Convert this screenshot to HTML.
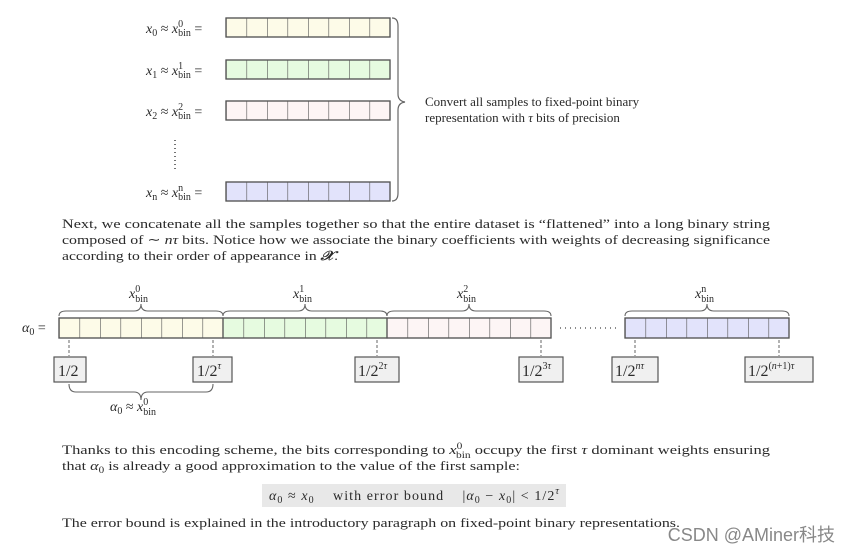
<!DOCTYPE html>
<html><head><meta charset="utf-8"><style>
html,body{margin:0;padding:0;background:#fff;}
svg{display:block;}
text{font-family:"Liberation Serif",serif;fill:#2a2a2a;}
.m{font-style:italic;}
</style></head><body>
<svg width="850" height="551" viewBox="0 0 850 551" xmlns="http://www.w3.org/2000/svg">
<defs>
<pattern id="pt" patternUnits="userSpaceOnUse" x="226" y="0" width="20.5" height="600"><line x1="0" y1="0" x2="0" y2="600" stroke="#555" stroke-width="1.2"/></pattern>
<pattern id="pb" patternUnits="userSpaceOnUse" x="59" y="0" width="20.5" height="600"><line x1="0" y1="0" x2="0" y2="600" stroke="#555" stroke-width="1.2"/></pattern>
<pattern id="pn" patternUnits="userSpaceOnUse" x="625" y="0" width="20.5" height="600"><line x1="0" y1="0" x2="0" y2="600" stroke="#555" stroke-width="1.2"/></pattern>
</defs>
<g font-size="13">
<g stroke="#555" stroke-width="1.2">
<rect x="226" y="18" width="164" height="19" fill="#fdfbe8"/><rect x="226" y="18" width="164" height="19" fill="url(#pt)"/>
<rect x="226" y="60" width="164" height="19" fill="#e6fbe0"/><rect x="226" y="60" width="164" height="19" fill="url(#pt)"/>
<rect x="226" y="101" width="164" height="19" fill="#fdf5f5"/><rect x="226" y="101" width="164" height="19" fill="url(#pt)"/>
<rect x="226" y="182" width="164" height="19" fill="#e2e3fb"/><rect x="226" y="182" width="164" height="19" fill="url(#pt)"/>
</g>
<g font-size="14">
<text x="146" y="33"><tspan class="m">x</tspan><tspan font-size="10" dy="3">0</tspan><tspan dy="-3">&#160;≈&#160;</tspan><tspan class="m">x</tspan><tspan font-size="10" dy="-6">0</tspan><tspan font-size="10" dx="-5" dy="9">bin</tspan><tspan dy="-3">&#160;=</tspan></text>
<text x="146" y="75"><tspan class="m">x</tspan><tspan font-size="10" dy="3">1</tspan><tspan dy="-3">&#160;≈&#160;</tspan><tspan class="m">x</tspan><tspan font-size="10" dy="-6">1</tspan><tspan font-size="10" dx="-5" dy="9">bin</tspan><tspan dy="-3">&#160;=</tspan></text>
<text x="146" y="116"><tspan class="m">x</tspan><tspan font-size="10" dy="3">2</tspan><tspan dy="-3">&#160;≈&#160;</tspan><tspan class="m">x</tspan><tspan font-size="10" dy="-6">2</tspan><tspan font-size="10" dx="-5" dy="9">bin</tspan><tspan dy="-3">&#160;=</tspan></text>
<text x="146" y="197"><tspan class="m">x</tspan><tspan font-size="10" dy="3">n</tspan><tspan dy="-3">&#160;≈&#160;</tspan><tspan class="m">x</tspan><tspan font-size="10" dy="-6">n</tspan><tspan font-size="10" dx="-5" dy="9">bin</tspan><tspan dy="-3">&#160;=</tspan></text>
</g>
<line x1="175" y1="140" x2="175" y2="172" stroke="#444" stroke-width="1.5" stroke-dasharray="1 3"/>
<path d="M392 18 Q398 18 398 26 L398 94 Q398 101 405 102 Q398 103 398 110 L398 193 Q398 201 392 201" fill="none" stroke="#666" stroke-width="1.2"/>
<text x="425" y="106">Convert all samples to fixed-point binary</text>
<text x="425" y="122">representation with <tspan class="m">τ</tspan> bits of precision</text>

<text x="62" y="228" textLength="708" lengthAdjust="spacingAndGlyphs">Next, we concatenate all the samples together so that the entire dataset is “flattened” into a long binary string</text>
<text x="62" y="244" textLength="708" lengthAdjust="spacingAndGlyphs">composed of ∼ <tspan class="m">nτ</tspan> bits. Notice how we associate the binary coefficients with weights of decreasing significance</text>
<text x="62" y="260" textLength="276" lengthAdjust="spacingAndGlyphs">according to their order of appearance in <tspan class="m" font-weight="bold">𝒳</tspan>.</text>

<text x="22" y="332" font-size="14"><tspan class="m">α</tspan><tspan font-size="10" dy="3">0</tspan><tspan dy="-3">&#160;=</tspan></text>
<g stroke="#555" stroke-width="1.2">
<rect x="59" y="318" width="164" height="20" fill="#fdfbe8"/>
<rect x="223" y="318" width="164" height="20" fill="#e6fbe0"/>
<rect x="387" y="318" width="164" height="20" fill="#fdf5f5"/>
<rect x="59" y="318" width="492" height="20" fill="url(#pb)"/>
<rect x="625" y="318" width="164" height="20" fill="#e2e3fb"/>
<rect x="625" y="318" width="164" height="20" fill="url(#pn)"/>
</g>
<line x1="560" y1="328" x2="618" y2="328" stroke="#444" stroke-width="1.3" stroke-dasharray="1 4"/>
<g fill="none" stroke="#666" stroke-width="1.1">
<path d="M59 316 Q59 311 66 311 L134 311 Q141 311 141 304 Q141 311 148 311 L216 311 Q223 311 223 316"/>
<path d="M223 316 Q223 311 230 311 L298 311 Q305 311 305 304 Q305 311 312 311 L380 311 Q387 311 387 316"/>
<path d="M387 316 Q387 311 394 311 L462 311 Q469 311 469 304 Q469 311 476 311 L544 311 Q551 311 551 316"/>
<path d="M625 316 Q625 311 632 311 L700 311 Q707 311 707 304 Q707 311 714 311 L782 311 Q789 311 789 316"/>
<path d="M69 384 Q69 392 76 392 L134 392 Q141 392 141 400 Q141 392 148 392 L206 392 Q213 392 213 384"/>
</g>
<g font-size="14">
<text x="129" y="298" class="m">x<tspan font-size="10" font-style="normal" dy="-6">0</tspan><tspan font-size="10" font-style="normal" dx="-5" dy="10">bin</tspan></text>
<text x="293" y="298" class="m">x<tspan font-size="10" font-style="normal" dy="-6">1</tspan><tspan font-size="10" font-style="normal" dx="-5" dy="10">bin</tspan></text>
<text x="457" y="298" class="m">x<tspan font-size="10" font-style="normal" dy="-6">2</tspan><tspan font-size="10" font-style="normal" dx="-5" dy="10">bin</tspan></text>
<text x="695" y="298" class="m">x<tspan font-size="10" font-style="normal" dy="-6">n</tspan><tspan font-size="10" font-style="normal" dx="-5" dy="10">bin</tspan></text>
<text x="110" y="411"><tspan class="m">α</tspan><tspan font-size="10" dy="3">0</tspan><tspan dy="-3">&#160;≈&#160;</tspan><tspan class="m">x</tspan><tspan font-size="10" dy="-6">0</tspan><tspan font-size="10" dx="-5" dy="10">bin</tspan></text>
</g>
<g stroke="#666" stroke-width="1" stroke-dasharray="3 2">
<line x1="69" y1="340" x2="69" y2="356"/><line x1="213" y1="340" x2="213" y2="356"/>
<line x1="377" y1="340" x2="377" y2="356"/><line x1="541" y1="340" x2="541" y2="356"/>
<line x1="635" y1="340" x2="635" y2="356"/><line x1="779" y1="340" x2="779" y2="356"/>
</g>
<g stroke="#555" stroke-width="1.2" fill="#f0f0f0">
<rect x="54" y="357" width="32" height="25"/><rect x="193" y="357" width="39" height="25"/>
<rect x="355" y="357" width="44" height="25"/><rect x="519" y="357" width="44" height="25"/>
<rect x="612" y="357" width="46" height="25"/><rect x="745" y="357" width="68" height="25"/>
</g>
<g font-size="16">
<text x="58" y="376">1/2</text>
<text x="197" y="376">1/2<tspan font-size="10" dy="-7" class="m">τ</tspan></text>
<text x="358" y="376">1/2<tspan font-size="10" dy="-7">2<tspan class="m">τ</tspan></tspan></text>
<text x="522" y="376">1/2<tspan font-size="10" dy="-7">3<tspan class="m">τ</tspan></tspan></text>
<text x="615" y="376">1/2<tspan font-size="10" dy="-7" class="m">nτ</tspan></text>
<text x="748" y="376">1/2<tspan font-size="10" dy="-7">(<tspan class="m">n</tspan>+1)<tspan class="m">τ</tspan></tspan></text>
</g>

<text x="62" y="454" textLength="708" lengthAdjust="spacingAndGlyphs">Thanks to this encoding scheme, the bits corresponding to <tspan class="m">x</tspan><tspan font-size="9" dy="-5">0</tspan><tspan font-size="9" dx="-5" dy="9">bin</tspan><tspan dy="-4"> occupy the first </tspan><tspan class="m">τ</tspan> dominant weights ensuring</text>
<text x="62" y="470" textLength="458" lengthAdjust="spacingAndGlyphs">that <tspan class="m">α</tspan><tspan font-size="9" dy="3">0</tspan><tspan dy="-3"> is already a good approximation to the value of the first sample:</tspan></text>
<rect x="262" y="484" width="304" height="23" fill="#e8e8e8"/>
<text x="269" y="500" font-size="14" textLength="290" lengthAdjust="spacing"><tspan class="m">α</tspan><tspan font-size="10" dy="3">0</tspan><tspan dy="-3">&#160;≈&#160;</tspan><tspan class="m">x</tspan><tspan font-size="10" dy="3">0</tspan><tspan dy="-3">&#160;&#160;&#160;&#160;with error bound&#160;&#160;&#160;&#160;|</tspan><tspan class="m">α</tspan><tspan font-size="10" dy="3">0</tspan><tspan dy="-3">&#160;−&#160;</tspan><tspan class="m">x</tspan><tspan font-size="10" dy="3">0</tspan><tspan dy="-3">|&#160;&lt;&#160;1/2</tspan><tspan font-size="10" dy="-6" class="m">τ</tspan></text>
<text x="62" y="527" textLength="618" lengthAdjust="spacingAndGlyphs">The error bound is explained in the introductory paragraph on fixed-point binary representations.</text>
</g>
<text x="835" y="541" font-size="18" text-anchor="end" style="font-family:'Liberation Sans','Noto Sans CJK SC',sans-serif;fill:#888">CSDN @AMiner科技</text>
</svg>
</body></html>
